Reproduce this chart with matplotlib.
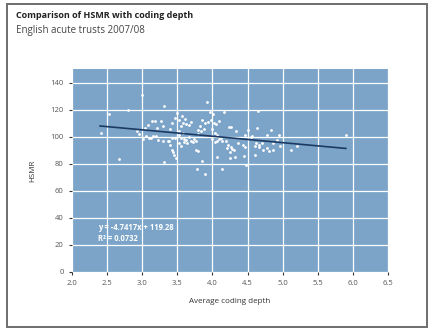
import matplotlib
matplotlib.use("Agg")
import matplotlib.pyplot as plt
from matplotlib.patches import Rectangle
import numpy as np

# Trust-level average coding depth vs HSMR
coding_depth = [
    2.42, 2.53, 2.67, 2.80, 3.00, 2.93, 2.96, 3.01, 3.31,
    3.14, 3.18, 3.27, 3.08, 3.04, 3.21, 3.30, 3.10, 3.16, 3.19, 3.23, 3.30, 3.38, 3.40, 3.42, 3.45,
    3.31, 3.40, 3.43, 3.47, 3.50, 3.42, 3.46, 3.44, 3.48, 3.36,
    3.52, 3.55, 3.57, 3.53, 3.58, 3.61, 3.63, 3.66, 3.69, 3.52, 3.55, 3.58, 3.60, 3.63, 3.67, 3.70,
    3.72, 3.74, 3.77, 3.52, 3.55, 3.60, 3.64, 3.78, 3.80, 3.80, 3.12, 3.06,
    3.92, 3.97, 4.01, 4.17, 4.65, 3.82, 3.85, 3.83, 3.88, 3.90, 3.94, 3.98, 4.02, 4.05, 4.09, 4.00,
    4.03, 4.06, 4.23, 4.27, 4.33, 4.47, 4.51, 4.64, 4.00, 4.03, 4.06, 4.09, 4.12, 4.14, 4.20, 4.22,
    4.26, 4.28, 4.31, 4.25, 4.21, 4.37, 4.43, 4.47, 4.60, 4.67, 4.72, 4.78, 4.07, 4.25, 4.32, 4.45,
    4.60, 3.85, 4.14, 3.90, 4.48, 3.76, 3.79,
    4.84, 4.78, 4.95, 4.55, 4.57, 4.62, 4.66, 4.70, 4.86, 4.92, 4.96, 4.80, 4.86, 5.12, 5.21, 5.90,
]
hsmr = [
    102.7, 117.0, 83.7, 120.0, 131.0, 104.0, 102.0, 98.5, 122.5,
    111.8, 111.8, 111.8, 108.4, 106.7, 106.4, 107.6, 99.0, 100.2, 100.2, 97.8, 96.5, 96.5, 94.0, 90.4, 86.7,
    81.3, 106.0, 110.0, 114.0, 117.5, 99.3, 99.3, 88.5, 84.0, 96.8,
    112.0, 108.0, 115.0, 104.0, 110.0, 113.0, 109.0, 108.5, 111.0, 101.0, 99.0, 103.0, 98.0, 97.5, 99.5, 97.0,
    96.0, 98.0, 97.0, 95.0, 93.0, 96.0, 95.5, 75.8, 105.0, 102.0, 98.8, 100.5,
    125.7, 118.5, 117.0, 118.0, 118.7, 108.0, 112.0, 104.0, 106.0, 110.0, 111.0, 112.0, 110.0, 109.0, 111.5, 106.0,
    103.0, 101.0, 107.0, 107.5, 104.0, 101.0, 105.0, 106.5, 98.0, 96.0, 97.0, 98.5, 99.0, 96.5, 97.0, 94.0,
    92.0, 91.0, 90.0, 89.0, 91.5, 95.0, 94.0, 92.5, 93.0, 92.0, 90.5, 91.5, 85.0, 84.5, 85.0, 85.5,
    86.5, 82.0, 75.8, 72.6, 79.0, 90.5, 89.5,
    104.7, 101.5, 101.5, 99.5, 100.5, 95.0, 94.0, 95.5, 95.0, 97.5, 93.0, 89.5, 90.0, 90.4, 92.8, 101.0,
]

# Linear trend as reported on the chart
slope, intercept, r2 = -4.7417, 119.28, 0.0732
trend_x = [2.4, 5.9]

x_ticks = [2.0, 2.5, 3.0, 3.5, 4.0, 4.5, 5.0, 5.5, 6.0, 6.5]
y_ticks = [0, 20, 40, 60, 80, 100, 120, 140]

bg = "#7ba4c8"
label_grey = "#555555"
plt.rcParams["font.family"] = ["Open Sans", "DejaVu Sans"]

fig = plt.figure(figsize=(4.32, 3.36), dpi=100)
fig.patch.set_facecolor("white")

# outer frame around the whole figure
fig.patches.append(Rectangle((7 / 432, 1 - 327 / 336), 420 / 432, 323 / 336,
                             transform=fig.transFigure, fill=False,
                             edgecolor="#6e6e6e", linewidth=1.4))

fig.text(16 / 432, 1 - 16 / 336, "Comparison of HSMR with coding depth",
         fontsize=6.5, fontweight="bold", color="#222222", va="center")
fig.text(16 / 432, 1 - 31 / 336, "English acute trusts 2007/08",
         fontsize=7.0, color="#444444", va="center")

ax = fig.add_axes([72 / 432, (336 - 272) / 336, 316 / 432, 203 / 336])
ax.set_facecolor(bg)
ax.set_xlim(2.0, 6.5)
ax.set_ylim(0, 150)
ax.set_xticks(x_ticks)
ax.set_yticks(y_ticks)
ax.set_xticklabels([f"{t:.1f}" for t in x_ticks])
ax.grid(True, color="white", linewidth=0.9)
ax.set_axisbelow(True)
for s in ax.spines.values():
    s.set_visible(False)
ax.tick_params(length=2, width=0.8, color="#333333", labelsize=5.5,
               labelcolor=label_grey, pad=4)

ax.scatter(coding_depth, hsmr, s=4, color="white", linewidths=0, zorder=3)
tx = np.array(trend_x)
ax.plot(tx, slope * tx + intercept, color="#1c3a63", linewidth=1.2, zorder=4)

ax.text(2.37, 33, f"y = {slope}x + {intercept}", color="white",
        fontsize=5.5, fontweight="bold", va="center")
ax.text(2.37, 24.5, f"R² = {r2}", color="white",
        fontsize=5.5, fontweight="bold", va="center")

ax.set_xlabel("Average coding depth", fontsize=5.8, color="#333333", labelpad=8)
ax.set_ylabel("HSMR", fontsize=5.8, color="#333333", labelpad=10)

fig.savefig("out.png", dpi=100)
